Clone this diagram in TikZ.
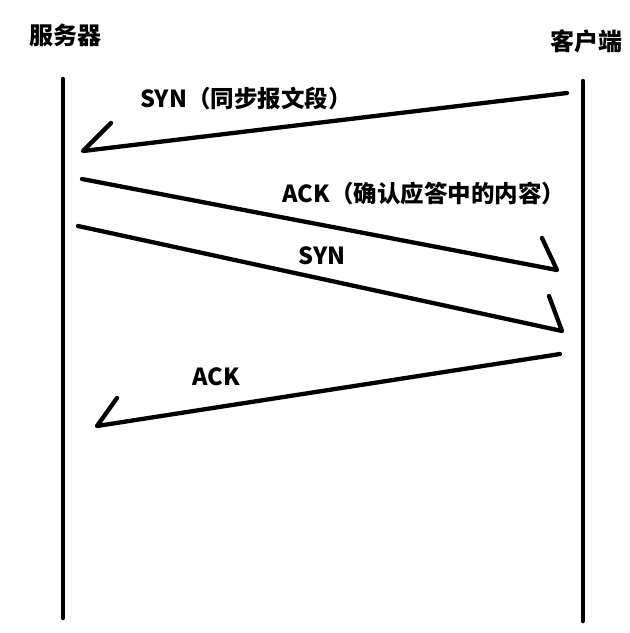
\documentclass[tikz,border=0pt]{standalone}
\usepackage{fontspec}
\newfontfamily\cjk{Noto Sans CJK SC}
\usepackage{tikz}
\usetikzlibrary{positioning}
\usetikzlibrary{calc}

\begin{document}
\begin{tikzpicture}[x=1pt, y=-1pt,
    lifeline/.style={line width=4.5pt, line cap=round},
    msg/.style={line width=4.3pt, line cap=round, line join=round},
    actor/.style={font=\cjk\bfseries\fontsize{24}{26}\selectfont},
    tag/.style={font=\cjk\bfseries\fontsize{23.5}{26}\selectfont}]

\useasboundingbox (0,0) rectangle (630,633);

%---------------------------------------
% Actors and lifelines
%---------------------------------------
\node[actor] (srv) at (66,35) {服务器};
\node[actor] (cli) at (586,41) {客户端};

\coordinate (srvtop) at (63,79);
\coordinate (srvbot) at (63,618);
\coordinate (clitop) at (583,81);
\coordinate (clibot) at (583,621);

\draw[lifeline] (srvtop) -- (srvbot);
\draw[lifeline] (clitop) -- (clibot);

%---------------------------------------
% Messages (start, tip, barb)
%---------------------------------------
\coordinate (synA) at (567,93);
\coordinate (synAtip) at (83,151);
\coordinate (synAbarb) at (111,123);

\coordinate (ackA) at (82,179);
\coordinate (ackAtip) at (557,270);
\coordinate (ackAbarb) at (542,238);

\coordinate (synB) at (78,226);
\coordinate (synBtip) at (562,331);
\coordinate (synBbarb) at (549,296);

\coordinate (ackB) at (560,354);
\coordinate (ackBtip) at (97,426);
\coordinate (ackBbarb) at (117,398);

\draw[msg] (synA) -- (synAtip) -- (synAbarb);
\draw[msg] (ackA) -- (ackAtip) -- (ackAbarb);
\draw[msg] (synB) -- (synBtip) -- (synBbarb);
\draw[msg] (ackB) -- (ackBtip) -- (ackBbarb);

% Labels
\node[tag] (synAlab) at (246,98) {SYN（同步报文段）};
\node[tag] (ackAlab) at (424,194) {ACK（确认应答中的内容）};
\node[tag] (synBlab) at (322,256) {SYN};
\node[tag] (ackBlab) at (216,377) {ACK};

\end{tikzpicture}
\end{document}
